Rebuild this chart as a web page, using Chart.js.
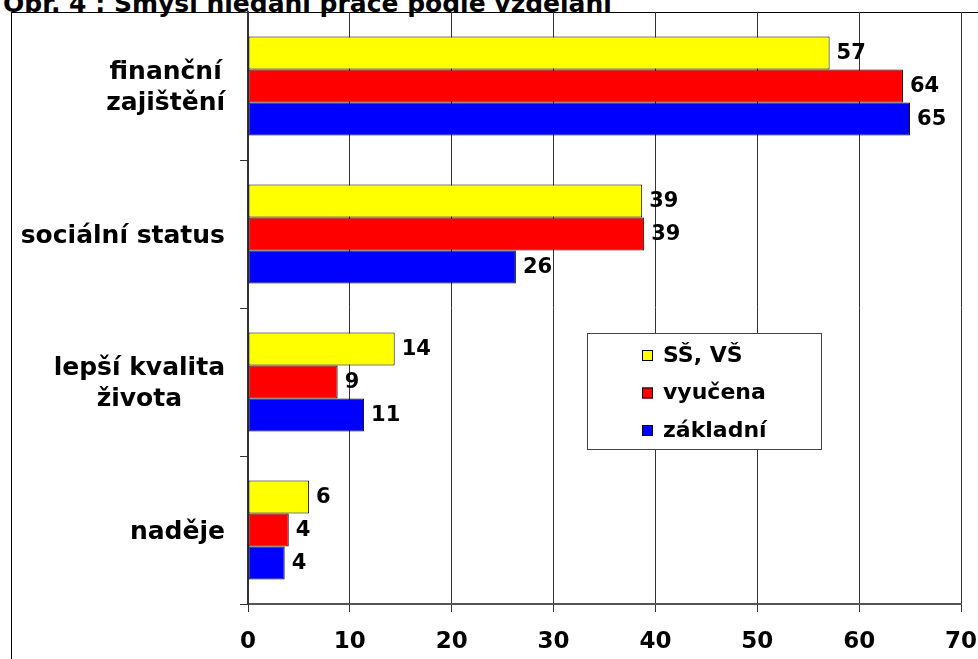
<!DOCTYPE html>
<html>
<head>
<meta charset="utf-8">
<script src="https://cdn.jsdelivr.net/npm/chart.js@4"></script>
<style>
html,body{margin:0;padding:0;background:#fff;overflow:hidden;}
#wrap{position:relative;width:978px;height:659px;}
#titulek{position:absolute;left:3px;top:-9px;font:bold 25px "DejaVu Sans";color:#000;white-space:nowrap;line-height:26px;}
#ramec{position:absolute;left:11px;top:12px;width:2000px;height:2000px;border-left:1px solid #000;border-top:1px solid #000;}
#graf{position:absolute;left:0;top:0;}
</style>
</head>
<body>
<div id="wrap">
<div id="titulek">Obr. 4 : Smysl hledání práce podle vzdělání</div>
<div id="ramec"></div>
<canvas id="graf" width="978" height="659"></canvas>
</div>
<script>
// kategorie (shora dolu)
const kategorie = [
["finanční","zajištění"],
["sociální status"],
["lepší kvalita","života"],
["naděje"]
];

// hodnoty (%)
const ssVs = [57.1, 38.7, 14.4, 6.0];
const vyucena = [64.3, 38.9, 8.8, 4.0];
const zakladni = [65.0, 26.3, 11.4, 3.6];

const nazvySerii = ["SŠ, VŠ","vyučena","základní"];
const barvy = ["#ffff00","#ff0000","#0000ff"];

const osaMax = 70;
const osaKrok = 10;

const pismo = "DejaVu Sans";

// popisky kategorii - bloky zarovnane doprava, radky na stred
const popiskyKategorii = {
id: "popiskyKategorii",
afterDraw(chart){
const ctx = chart.ctx;
const osaY = chart.scales.y;
ctx.save();
ctx.font = "bold 25px '" + pismo + "'";
ctx.fillStyle = "#000";
ctx.textAlign = "center";
ctx.textBaseline = "middle";
const pravyOkraj = osaY.right - 23;
kategorie.forEach((radky, i) => {
const y = osaY.getPixelForValue(i) + 2;
const sirka = Math.max(...radky.map(r => ctx.measureText(r).width));
const x = pravyOkraj - sirka / 2;
const vyska = 31;
radky.forEach((r, j) => {
ctx.fillText(r, x, y + (j - (radky.length - 1) / 2) * vyska);
});
});
ctx.restore();
}
};

// hodnoty na koncich sloupcu
const popiskyHodnot = {
id: "popiskyHodnot",
afterDatasetsDraw(chart){
const ctx = chart.ctx;
ctx.save();
ctx.font = "bold 21px '" + pismo + "'";
ctx.fillStyle = "#000";
ctx.textAlign = "left";
ctx.textBaseline = "middle";
chart.data.datasets.forEach((ds, i) => {
chart.getDatasetMeta(i).data.forEach((bar, j) => {
ctx.fillText(Math.round(ds.data[j]), bar.x + 7, bar.y + 1);
});
});
ctx.restore();
}
};

// legenda uvnitr grafu
const legendaUvnitr = {
id: "legendaUvnitr",
afterDraw(chart){
const ctx = chart.ctx;
const a = chart.chartArea;
const x0 = a.left + 339, y0 = a.top + 321, w = 234, h = 116;
ctx.save();
ctx.fillStyle = "#fff";
ctx.fillRect(x0, y0, w, h);
ctx.strokeStyle = "#444";
ctx.lineWidth = 1;
ctx.strokeRect(x0 + 0.5, y0 + 0.5, w, h);
ctx.font = "bold 22px '" + pismo + "'";
ctx.textBaseline = "middle";
chart.data.datasets.forEach((ds, i) => {
const y = y0 + 22 + i * 37.5;
ctx.fillStyle = ds.backgroundColor;
ctx.fillRect(x0 + 55, y - 5, 11, 11);
ctx.strokeStyle = "#000";
ctx.strokeRect(x0 + 55.5, y - 4.5, 10, 10);
ctx.fillStyle = "#000";
ctx.fillText(ds.label, x0 + 76, y + 1);
});
ctx.restore();
}
};

const ctx = document.getElementById("graf");

new Chart(ctx, {
type: "bar",
data: {
labels: kategorie,
datasets: [
{label: nazvySerii[0], data: ssVs, backgroundColor: barvy[0]},
{label: nazvySerii[1], data: vyucena, backgroundColor: barvy[1]},
{label: nazvySerii[2], data: zakladni, backgroundColor: barvy[2]}
]
},
options: {
indexAxis: "y",
responsive: false,
animation: false,
layout: {padding: {left: 0, top: 12, right: 17, bottom: 0}},
datasets: {
bar: {
borderColor: "#000",
borderWidth: 1,
borderSkipped: false,
categoryPercentage: 0.668,
barPercentage: 1
}
},
plugins: {
legend: {display: false},
tooltip: {enabled: false}
},
scales: {
x: {
min: 0,
max: osaMax,
ticks: {
stepSize: osaKrok,
color: "#000",
font: {family: pismo, size: 23, weight: "bold"},
padding: 16
},
grid: {color: "#333", lineWidth: 1, tickLength: 8},
border: {color: "#555", width: 2},
afterFit(s){ s.height = 55; s.paddingRight = 0; s.paddingLeft = 0; }
},
y: {
ticks: {display: false},
grid: {drawOnChartArea: false, color: "#333", tickLength: 8, offset: true},
border: {color: "#333", width: 2},
afterFit(s){ s.width = 248; }
}
}
},
plugins: [popiskyHodnot, legendaUvnitr, popiskyKategorii]
});
</script>
</body>
</html>
